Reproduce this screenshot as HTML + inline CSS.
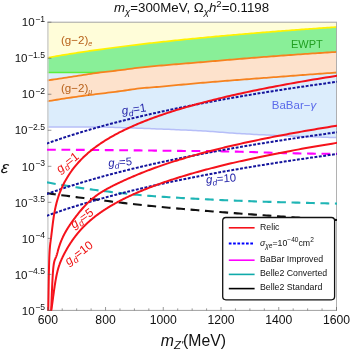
<!DOCTYPE html><html><head><meta charset="utf-8"><style>
html,body{margin:0;padding:0;background:#fff}
body{width:350px;height:349px;position:relative;overflow:hidden;font-family:"Liberation Sans",sans-serif}
svg{display:block;will-change:transform;opacity:0.999}
text{white-space:pre}
</style></head><body>
<svg width="350" height="349" viewBox="0 0 350 349" style="position:absolute;left:0;top:0">
<defs><clipPath id="c"><rect x="47.0" y="21.8" width="290.0" height="289.0"/></clipPath></defs>
<g clip-path="url(#c)">
<polygon fill="#DCEDFC" points="46.8,22.2 337.5,22.2 337.00,137.60 334.56,137.53 332.13,137.47 329.69,137.40 327.25,137.33 324.82,137.25 322.38,137.18 319.94,137.10 317.50,137.02 315.07,136.94 312.63,136.85 310.19,136.77 307.76,136.68 305.32,136.59 302.88,136.50 300.45,136.41 298.01,136.32 295.57,136.23 293.13,136.13 290.70,136.04 288.26,135.94 285.82,135.84 283.39,135.74 280.95,135.64 278.51,135.54 276.08,135.43 273.64,135.33 271.20,135.22 268.76,135.11 266.33,134.99 263.89,134.87 261.45,134.76 259.02,134.63 256.58,134.51 254.14,134.38 251.71,134.25 249.27,134.12 246.83,133.99 244.39,133.85 241.96,133.71 239.52,133.57 237.08,133.42 234.65,133.26 232.21,133.09 229.77,132.92 227.34,132.73 224.90,132.55 222.46,132.36 220.03,132.17 217.59,131.99 215.15,131.80 212.71,131.62 210.28,131.44 207.84,131.27 205.40,131.11 202.97,130.97 200.53,130.83 198.09,130.70 195.66,130.58 193.22,130.45 190.78,130.33 188.34,130.22 185.91,130.10 183.47,129.99 181.03,129.88 178.60,129.77 176.16,129.67 173.72,129.56 171.29,129.46 168.85,129.36 166.41,129.26 163.97,129.16 161.54,129.07 159.10,128.97 156.66,128.88 154.23,128.79 151.79,128.70 149.35,128.61 146.92,128.52 144.48,128.44 142.04,128.35 139.61,128.26 137.17,128.18 134.73,128.10 132.29,128.01 129.86,127.93 127.42,127.85 124.98,127.77 122.55,127.68 120.11,127.60 117.67,127.52 115.24,127.43 112.80,127.33 110.36,127.24 107.92,127.16 105.49,127.09 103.05,127.03 100.61,127.00 98.18,126.99 95.74,126.98 93.30,126.97 90.87,126.97 88.43,126.96 85.99,126.95 83.55,126.95 81.12,126.94 78.68,126.93 76.24,126.93 73.81,126.92 71.37,126.92 68.93,126.92 66.50,126.91 64.06,126.91 61.62,126.91 59.18,126.90 56.75,126.90 54.31,126.90 51.87,126.90 49.44,126.90 47.00,126.90"/>
<path d="M47.00,126.90 L49.44,126.90 L51.87,126.90 L54.31,126.90 L56.75,126.90 L59.18,126.90 L61.62,126.91 L64.06,126.91 L66.50,126.91 L68.93,126.92 L71.37,126.92 L73.81,126.92 L76.24,126.93 L78.68,126.93 L81.12,126.94 L83.55,126.95 L85.99,126.95 L88.43,126.96 L90.87,126.97 L93.30,126.97 L95.74,126.98 L98.18,126.99 L100.61,127.00 L103.05,127.03 L105.49,127.09 L107.92,127.16 L110.36,127.24 L112.80,127.33 L115.24,127.43 L117.67,127.52 L120.11,127.60 L122.55,127.68 L124.98,127.77 L127.42,127.85 L129.86,127.93 L132.29,128.01 L134.73,128.10 L137.17,128.18 L139.61,128.26 L142.04,128.35 L144.48,128.44 L146.92,128.52 L149.35,128.61 L151.79,128.70 L154.23,128.79 L156.66,128.88 L159.10,128.97 L161.54,129.07 L163.97,129.16 L166.41,129.26 L168.85,129.36 L171.29,129.46 L173.72,129.56 L176.16,129.67 L178.60,129.77 L181.03,129.88 L183.47,129.99 L185.91,130.10 L188.34,130.22 L190.78,130.33 L193.22,130.45 L195.66,130.58 L198.09,130.70 L200.53,130.83 L202.97,130.97 L205.40,131.11 L207.84,131.27 L210.28,131.44 L212.71,131.62 L215.15,131.80 L217.59,131.99 L220.03,132.17 L222.46,132.36 L224.90,132.55 L227.34,132.73 L229.77,132.92 L232.21,133.09 L234.65,133.26 L237.08,133.42 L239.52,133.57 L241.96,133.71 L244.39,133.85 L246.83,133.99 L249.27,134.12 L251.71,134.25 L254.14,134.38 L256.58,134.51 L259.02,134.63 L261.45,134.76 L263.89,134.87 L266.33,134.99 L268.76,135.11 L271.20,135.22 L273.64,135.33 L276.08,135.43 L278.51,135.54 L280.95,135.64 L283.39,135.74 L285.82,135.84 L288.26,135.94 L290.70,136.04 L293.13,136.13 L295.57,136.23 L298.01,136.32 L300.45,136.41 L302.88,136.50 L305.32,136.59 L307.76,136.68 L310.19,136.77 L312.63,136.85 L315.07,136.94 L317.50,137.02 L319.94,137.10 L322.38,137.18 L324.82,137.25 L327.25,137.33 L329.69,137.40 L332.13,137.47 L334.56,137.53 L337.00,137.60" fill="none" stroke="#B6BEF8" stroke-width="1.5"/>
<polygon fill="#89EF98" points="46.60,57.92 48.55,57.57 50.50,57.22 52.45,56.87 54.40,56.53 56.34,56.19 58.29,55.86 60.24,55.53 62.19,55.21 64.14,54.88 66.09,54.56 68.04,54.25 69.99,53.93 71.94,53.62 73.89,53.31 75.83,53.01 77.78,52.71 79.73,52.41 81.68,52.12 83.63,51.82 85.58,51.53 87.53,51.24 89.48,50.96 91.43,50.68 93.38,50.40 95.32,50.12 97.27,49.85 99.22,49.57 101.17,49.30 103.12,49.04 105.07,48.77 107.02,48.51 108.97,48.25 110.92,47.99 112.87,47.73 114.81,47.48 116.76,47.22 118.71,46.97 120.66,46.72 122.61,46.48 124.56,46.23 126.51,45.99 128.46,45.75 130.41,45.51 132.36,45.27 134.30,45.04 136.25,44.80 138.20,44.57 140.15,44.34 142.10,44.11 144.05,43.88 146.00,43.66 147.95,43.44 149.90,43.21 151.85,42.99 153.79,42.77 155.74,42.56 157.69,42.34 159.64,42.13 161.59,41.91 163.54,41.70 165.49,41.49 167.44,41.28 169.39,41.07 171.34,40.87 173.28,40.66 175.23,40.46 177.18,40.26 179.13,40.06 181.08,39.86 183.03,39.66 184.98,39.46 186.93,39.27 188.88,39.07 190.83,38.88 192.77,38.69 194.72,38.50 196.67,38.31 198.62,38.12 200.57,37.93 202.52,37.74 204.47,37.56 206.42,37.37 208.37,37.19 210.32,37.01 212.26,36.83 214.21,36.65 216.16,36.47 218.11,36.29 220.06,36.11 222.01,35.94 223.96,35.76 225.91,35.59 227.86,35.42 229.81,35.24 231.75,35.07 233.70,34.90 235.65,34.73 237.60,34.56 239.55,34.40 241.50,34.23 243.45,34.07 245.40,33.90 247.35,33.74 249.30,33.57 251.24,33.41 253.19,33.25 255.14,33.09 257.09,32.93 259.04,32.77 260.99,32.61 262.94,32.45 264.89,32.30 266.84,32.14 268.79,31.99 270.73,31.83 272.68,31.68 274.63,31.53 276.58,31.37 278.53,31.22 280.48,31.07 282.43,30.92 284.38,30.77 286.33,30.63 288.28,30.48 290.22,30.33 292.17,30.18 294.12,30.04 296.07,29.89 298.02,29.75 299.97,29.61 301.92,29.46 303.87,29.32 305.82,29.18 307.77,29.04 309.71,28.90 311.66,28.76 313.61,28.62 315.56,28.48 317.51,28.34 319.46,28.20 321.41,28.07 323.36,27.93 325.31,27.80 327.26,27.66 329.20,27.53 331.15,27.39 333.10,27.26 335.05,27.13 337.00,27.00 337.5,72.5 46.8,72.5"/>
<path d="M46.8,72.5 L337.5,72.5" stroke="#5AEF3C" stroke-width="1.3"/>
<polygon fill="#FFFDD9" points="46.8,22.2 337.5,22.2 337.00,27.00 335.05,27.13 333.10,27.26 331.15,27.39 329.20,27.53 327.26,27.66 325.31,27.80 323.36,27.93 321.41,28.07 319.46,28.20 317.51,28.34 315.56,28.48 313.61,28.62 311.66,28.76 309.71,28.90 307.77,29.04 305.82,29.18 303.87,29.32 301.92,29.46 299.97,29.61 298.02,29.75 296.07,29.89 294.12,30.04 292.17,30.18 290.22,30.33 288.28,30.48 286.33,30.63 284.38,30.77 282.43,30.92 280.48,31.07 278.53,31.22 276.58,31.37 274.63,31.53 272.68,31.68 270.73,31.83 268.79,31.99 266.84,32.14 264.89,32.30 262.94,32.45 260.99,32.61 259.04,32.77 257.09,32.93 255.14,33.09 253.19,33.25 251.24,33.41 249.30,33.57 247.35,33.74 245.40,33.90 243.45,34.07 241.50,34.23 239.55,34.40 237.60,34.56 235.65,34.73 233.70,34.90 231.75,35.07 229.81,35.24 227.86,35.42 225.91,35.59 223.96,35.76 222.01,35.94 220.06,36.11 218.11,36.29 216.16,36.47 214.21,36.65 212.26,36.83 210.32,37.01 208.37,37.19 206.42,37.37 204.47,37.56 202.52,37.74 200.57,37.93 198.62,38.12 196.67,38.31 194.72,38.50 192.77,38.69 190.83,38.88 188.88,39.07 186.93,39.27 184.98,39.46 183.03,39.66 181.08,39.86 179.13,40.06 177.18,40.26 175.23,40.46 173.28,40.66 171.34,40.87 169.39,41.07 167.44,41.28 165.49,41.49 163.54,41.70 161.59,41.91 159.64,42.13 157.69,42.34 155.74,42.56 153.79,42.77 151.85,42.99 149.90,43.21 147.95,43.44 146.00,43.66 144.05,43.88 142.10,44.11 140.15,44.34 138.20,44.57 136.25,44.80 134.30,45.04 132.36,45.27 130.41,45.51 128.46,45.75 126.51,45.99 124.56,46.23 122.61,46.48 120.66,46.72 118.71,46.97 116.76,47.22 114.81,47.48 112.87,47.73 110.92,47.99 108.97,48.25 107.02,48.51 105.07,48.77 103.12,49.04 101.17,49.30 99.22,49.57 97.27,49.85 95.32,50.12 93.38,50.40 91.43,50.68 89.48,50.96 87.53,51.24 85.58,51.53 83.63,51.82 81.68,52.12 79.73,52.41 77.78,52.71 75.83,53.01 73.89,53.31 71.94,53.62 69.99,53.93 68.04,54.25 66.09,54.56 64.14,54.88 62.19,55.21 60.24,55.53 58.29,55.86 56.34,56.19 54.40,56.53 52.45,56.87 50.50,57.22 48.55,57.57 46.60,57.92"/>
<path d="M46.60,57.92 L48.55,57.57 L50.50,57.22 L52.45,56.87 L54.40,56.53 L56.34,56.19 L58.29,55.86 L60.24,55.53 L62.19,55.21 L64.14,54.88 L66.09,54.56 L68.04,54.25 L69.99,53.93 L71.94,53.62 L73.89,53.31 L75.83,53.01 L77.78,52.71 L79.73,52.41 L81.68,52.12 L83.63,51.82 L85.58,51.53 L87.53,51.24 L89.48,50.96 L91.43,50.68 L93.38,50.40 L95.32,50.12 L97.27,49.85 L99.22,49.57 L101.17,49.30 L103.12,49.04 L105.07,48.77 L107.02,48.51 L108.97,48.25 L110.92,47.99 L112.87,47.73 L114.81,47.48 L116.76,47.22 L118.71,46.97 L120.66,46.72 L122.61,46.48 L124.56,46.23 L126.51,45.99 L128.46,45.75 L130.41,45.51 L132.36,45.27 L134.30,45.04 L136.25,44.80 L138.20,44.57 L140.15,44.34 L142.10,44.11 L144.05,43.88 L146.00,43.66 L147.95,43.44 L149.90,43.21 L151.85,42.99 L153.79,42.77 L155.74,42.56 L157.69,42.34 L159.64,42.13 L161.59,41.91 L163.54,41.70 L165.49,41.49 L167.44,41.28 L169.39,41.07 L171.34,40.87 L173.28,40.66 L175.23,40.46 L177.18,40.26 L179.13,40.06 L181.08,39.86 L183.03,39.66 L184.98,39.46 L186.93,39.27 L188.88,39.07 L190.83,38.88 L192.77,38.69 L194.72,38.50 L196.67,38.31 L198.62,38.12 L200.57,37.93 L202.52,37.74 L204.47,37.56 L206.42,37.37 L208.37,37.19 L210.32,37.01 L212.26,36.83 L214.21,36.65 L216.16,36.47 L218.11,36.29 L220.06,36.11 L222.01,35.94 L223.96,35.76 L225.91,35.59 L227.86,35.42 L229.81,35.24 L231.75,35.07 L233.70,34.90 L235.65,34.73 L237.60,34.56 L239.55,34.40 L241.50,34.23 L243.45,34.07 L245.40,33.90 L247.35,33.74 L249.30,33.57 L251.24,33.41 L253.19,33.25 L255.14,33.09 L257.09,32.93 L259.04,32.77 L260.99,32.61 L262.94,32.45 L264.89,32.30 L266.84,32.14 L268.79,31.99 L270.73,31.83 L272.68,31.68 L274.63,31.53 L276.58,31.37 L278.53,31.22 L280.48,31.07 L282.43,30.92 L284.38,30.77 L286.33,30.63 L288.28,30.48 L290.22,30.33 L292.17,30.18 L294.12,30.04 L296.07,29.89 L298.02,29.75 L299.97,29.61 L301.92,29.46 L303.87,29.32 L305.82,29.18 L307.77,29.04 L309.71,28.90 L311.66,28.76 L313.61,28.62 L315.56,28.48 L317.51,28.34 L319.46,28.20 L321.41,28.07 L323.36,27.93 L325.31,27.80 L327.26,27.66 L329.20,27.53 L331.15,27.39 L333.10,27.26 L335.05,27.13 L337.00,27.00" fill="none" stroke="#FFF200" stroke-width="1.7"/>
<polygon fill="#FDE2CC" points="47.00,80.50 49.44,80.13 51.87,79.76 54.31,79.39 56.75,79.02 59.18,78.65 61.62,78.28 64.06,77.91 66.50,77.54 68.93,77.17 71.37,76.80 73.81,76.44 76.24,76.07 78.68,75.70 81.12,75.33 83.55,74.97 85.99,74.60 88.43,74.22 90.87,73.84 93.30,73.46 95.74,73.09 98.18,72.75 100.61,72.42 103.05,72.12 105.49,71.83 107.92,71.56 110.36,71.29 112.80,71.02 115.24,70.75 117.67,70.48 120.11,70.19 122.55,69.88 124.98,69.55 127.42,69.22 129.86,68.89 132.29,68.55 134.73,68.23 137.17,67.93 139.61,67.64 142.04,67.38 144.48,67.13 146.92,66.88 149.35,66.64 151.79,66.40 154.23,66.17 156.66,65.94 159.10,65.72 161.54,65.50 163.97,65.29 166.41,65.08 168.85,64.87 171.29,64.67 173.72,64.47 176.16,64.27 178.60,64.07 181.03,63.87 183.47,63.67 185.91,63.47 188.34,63.27 190.78,63.07 193.22,62.87 195.66,62.67 198.09,62.46 200.53,62.25 202.97,62.05 205.40,61.84 207.84,61.63 210.28,61.42 212.71,61.21 215.15,61.00 217.59,60.79 220.03,60.58 222.46,60.37 224.90,60.16 227.34,59.96 229.77,59.75 232.21,59.54 234.65,59.34 237.08,59.13 239.52,58.93 241.96,58.73 244.39,58.52 246.83,58.32 249.27,58.13 251.71,57.93 254.14,57.73 256.58,57.54 259.02,57.35 261.45,57.15 263.89,56.97 266.33,56.78 268.76,56.59 271.20,56.41 273.64,56.23 276.08,56.05 278.51,55.87 280.95,55.69 283.39,55.51 285.82,55.33 288.26,55.16 290.70,54.99 293.13,54.81 295.57,54.64 298.01,54.47 300.45,54.30 302.88,54.13 305.32,53.96 307.76,53.80 310.19,53.63 312.63,53.47 315.07,53.31 317.50,53.14 319.94,52.98 322.38,52.83 324.82,52.67 327.25,52.51 329.69,52.36 332.13,52.20 334.56,52.05 337.00,51.90 337.00,72.50 334.56,72.68 332.13,72.86 329.69,73.03 327.25,73.21 324.82,73.39 322.38,73.57 319.94,73.75 317.50,73.93 315.07,74.11 312.63,74.29 310.19,74.47 307.76,74.65 305.32,74.83 302.88,75.01 300.45,75.20 298.01,75.38 295.57,75.56 293.13,75.74 290.70,75.93 288.26,76.11 285.82,76.30 283.39,76.48 280.95,76.67 278.51,76.85 276.08,77.04 273.64,77.22 271.20,77.41 268.76,77.59 266.33,77.78 263.89,77.97 261.45,78.15 259.02,78.34 256.58,78.52 254.14,78.71 251.71,78.89 249.27,79.08 246.83,79.26 244.39,79.45 241.96,79.64 239.52,79.82 237.08,80.01 234.65,80.20 232.21,80.39 229.77,80.58 227.34,80.77 224.90,80.96 222.46,81.15 220.03,81.35 217.59,81.54 215.15,81.74 212.71,81.94 210.28,82.14 207.84,82.34 205.40,82.54 202.97,82.75 200.53,82.95 198.09,83.16 195.66,83.38 193.22,83.60 190.78,83.82 188.34,84.05 185.91,84.28 183.47,84.51 181.03,84.74 178.60,84.97 176.16,85.20 173.72,85.43 171.29,85.67 168.85,85.89 166.41,86.12 163.97,86.34 161.54,86.56 159.10,86.78 156.66,86.98 154.23,87.18 151.79,87.37 149.35,87.56 146.92,87.76 144.48,87.97 142.04,88.19 139.61,88.44 137.17,88.73 134.73,89.05 132.29,89.39 129.86,89.76 127.42,90.13 124.98,90.49 122.55,90.85 120.11,91.19 117.67,91.50 115.24,91.82 112.80,92.12 110.36,92.42 107.92,92.72 105.49,93.02 103.05,93.32 100.61,93.62 98.18,93.93 95.74,94.22 93.30,94.52 90.87,94.82 88.43,95.12 85.99,95.43 83.55,95.76 81.12,96.10 78.68,96.44 76.24,96.78 73.81,97.13 71.37,97.49 68.93,97.85 66.50,98.22 64.06,98.60 61.62,98.98 59.18,99.36 56.75,99.76 54.31,100.16 51.87,100.56 49.44,100.98 47.00,101.40"/>
<path d="M47.00,80.50 L49.44,80.13 L51.87,79.76 L54.31,79.39 L56.75,79.02 L59.18,78.65 L61.62,78.28 L64.06,77.91 L66.50,77.54 L68.93,77.17 L71.37,76.80 L73.81,76.44 L76.24,76.07 L78.68,75.70 L81.12,75.33 L83.55,74.97 L85.99,74.60 L88.43,74.22 L90.87,73.84 L93.30,73.46 L95.74,73.09 L98.18,72.75 L100.61,72.42 L103.05,72.12 L105.49,71.83 L107.92,71.56 L110.36,71.29 L112.80,71.02 L115.24,70.75 L117.67,70.48 L120.11,70.19 L122.55,69.88 L124.98,69.55 L127.42,69.22 L129.86,68.89 L132.29,68.55 L134.73,68.23 L137.17,67.93 L139.61,67.64 L142.04,67.38 L144.48,67.13 L146.92,66.88 L149.35,66.64 L151.79,66.40 L154.23,66.17 L156.66,65.94 L159.10,65.72 L161.54,65.50 L163.97,65.29 L166.41,65.08 L168.85,64.87 L171.29,64.67 L173.72,64.47 L176.16,64.27 L178.60,64.07 L181.03,63.87 L183.47,63.67 L185.91,63.47 L188.34,63.27 L190.78,63.07 L193.22,62.87 L195.66,62.67 L198.09,62.46 L200.53,62.25 L202.97,62.05 L205.40,61.84 L207.84,61.63 L210.28,61.42 L212.71,61.21 L215.15,61.00 L217.59,60.79 L220.03,60.58 L222.46,60.37 L224.90,60.16 L227.34,59.96 L229.77,59.75 L232.21,59.54 L234.65,59.34 L237.08,59.13 L239.52,58.93 L241.96,58.73 L244.39,58.52 L246.83,58.32 L249.27,58.13 L251.71,57.93 L254.14,57.73 L256.58,57.54 L259.02,57.35 L261.45,57.15 L263.89,56.97 L266.33,56.78 L268.76,56.59 L271.20,56.41 L273.64,56.23 L276.08,56.05 L278.51,55.87 L280.95,55.69 L283.39,55.51 L285.82,55.33 L288.26,55.16 L290.70,54.99 L293.13,54.81 L295.57,54.64 L298.01,54.47 L300.45,54.30 L302.88,54.13 L305.32,53.96 L307.76,53.80 L310.19,53.63 L312.63,53.47 L315.07,53.31 L317.50,53.14 L319.94,52.98 L322.38,52.83 L324.82,52.67 L327.25,52.51 L329.69,52.36 L332.13,52.20 L334.56,52.05 L337.00,51.90" fill="none" stroke="#F6821F" stroke-width="1.8"/>
<path d="M47.00,101.40 L49.44,100.98 L51.87,100.56 L54.31,100.16 L56.75,99.76 L59.18,99.36 L61.62,98.98 L64.06,98.60 L66.50,98.22 L68.93,97.85 L71.37,97.49 L73.81,97.13 L76.24,96.78 L78.68,96.44 L81.12,96.10 L83.55,95.76 L85.99,95.43 L88.43,95.12 L90.87,94.82 L93.30,94.52 L95.74,94.22 L98.18,93.93 L100.61,93.62 L103.05,93.32 L105.49,93.02 L107.92,92.72 L110.36,92.42 L112.80,92.12 L115.24,91.82 L117.67,91.50 L120.11,91.19 L122.55,90.85 L124.98,90.49 L127.42,90.13 L129.86,89.76 L132.29,89.39 L134.73,89.05 L137.17,88.73 L139.61,88.44 L142.04,88.19 L144.48,87.97 L146.92,87.76 L149.35,87.56 L151.79,87.37 L154.23,87.18 L156.66,86.98 L159.10,86.78 L161.54,86.56 L163.97,86.34 L166.41,86.12 L168.85,85.89 L171.29,85.67 L173.72,85.43 L176.16,85.20 L178.60,84.97 L181.03,84.74 L183.47,84.51 L185.91,84.28 L188.34,84.05 L190.78,83.82 L193.22,83.60 L195.66,83.38 L198.09,83.16 L200.53,82.95 L202.97,82.75 L205.40,82.54 L207.84,82.34 L210.28,82.14 L212.71,81.94 L215.15,81.74 L217.59,81.54 L220.03,81.35 L222.46,81.15 L224.90,80.96 L227.34,80.77 L229.77,80.58 L232.21,80.39 L234.65,80.20 L237.08,80.01 L239.52,79.82 L241.96,79.64 L244.39,79.45 L246.83,79.26 L249.27,79.08 L251.71,78.89 L254.14,78.71 L256.58,78.52 L259.02,78.34 L261.45,78.15 L263.89,77.97 L266.33,77.78 L268.76,77.59 L271.20,77.41 L273.64,77.22 L276.08,77.04 L278.51,76.85 L280.95,76.67 L283.39,76.48 L285.82,76.30 L288.26,76.11 L290.70,75.93 L293.13,75.74 L295.57,75.56 L298.01,75.38 L300.45,75.20 L302.88,75.01 L305.32,74.83 L307.76,74.65 L310.19,74.47 L312.63,74.29 L315.07,74.11 L317.50,73.93 L319.94,73.75 L322.38,73.57 L324.82,73.39 L327.25,73.21 L329.69,73.03 L332.13,72.86 L334.56,72.68 L337.00,72.50" fill="none" stroke="#F6821F" stroke-width="1.8"/>
</g>
<path d="M47.9,22.2 V310.4" stroke="#cfcfcf" stroke-width="1.5" fill="none"/>
<path d="M47.199999999999996,22.2 H337.0" stroke="#9a9a9a" stroke-width="0.9" fill="none"/>
<path d="M336.5,22.2 V310.4" stroke="#a8a8a8" stroke-width="0.9" fill="none"/>
<path d="M47.199999999999996,310.4 H337.0" stroke="#777" stroke-width="0.7" fill="none"/>
<g clip-path="url(#c)">
<path d="M47.00,149.70 L49.44,149.71 L51.87,149.72 L54.31,149.73 L56.75,149.75 L59.18,149.76 L61.62,149.77 L64.06,149.78 L66.50,149.80 L68.93,149.81 L71.37,149.83 L73.81,149.84 L76.24,149.86 L78.68,149.88 L81.12,149.89 L83.55,149.91 L85.99,149.93 L88.43,149.94 L90.87,149.96 L93.30,149.98 L95.74,150.00 L98.18,150.02 L100.61,150.04 L103.05,150.06 L105.49,150.08 L107.92,150.10 L110.36,150.12 L112.80,150.14 L115.24,150.16 L117.67,150.18 L120.11,150.20 L122.55,150.22 L124.98,150.25 L127.42,150.27 L129.86,150.30 L132.29,150.32 L134.73,150.35 L137.17,150.38 L139.61,150.41 L142.04,150.44 L144.48,150.47 L146.92,150.50 L149.35,150.53 L151.79,150.56 L154.23,150.59 L156.66,150.62 L159.10,150.65 L161.54,150.68 L163.97,150.71 L166.41,150.74 L168.85,150.77 L171.29,150.80 L173.72,150.83 L176.16,150.86 L178.60,150.88 L181.03,150.91 L183.47,150.94 L185.91,150.96 L188.34,150.98 L190.78,151.00 L193.22,151.02 L195.66,151.04 L198.09,151.07 L200.53,151.09 L202.97,151.11 L205.40,151.13 L207.84,151.16 L210.28,151.18 L212.71,151.21 L215.15,151.24 L217.59,151.27 L220.03,151.30 L222.46,151.34 L224.90,151.38 L227.34,151.43 L229.77,151.48 L232.21,151.53 L234.65,151.59 L237.08,151.65 L239.52,151.72 L241.96,151.78 L244.39,151.85 L246.83,151.91 L249.27,151.98 L251.71,152.05 L254.14,152.13 L256.58,152.21 L259.02,152.30 L261.45,152.39 L263.89,152.48 L266.33,152.57 L268.76,152.66 L271.20,152.74 L273.64,152.83 L276.08,152.90 L278.51,152.96 L280.95,153.02 L283.39,153.08 L285.82,153.13 L288.26,153.18 L290.70,153.23 L293.13,153.28 L295.57,153.33 L298.01,153.38 L300.45,153.43 L302.88,153.48 L305.32,153.52 L307.76,153.57 L310.19,153.61 L312.63,153.65 L315.07,153.68 L317.50,153.72 L319.94,153.75 L322.38,153.78 L324.82,153.81 L327.25,153.83 L329.69,153.85 L332.13,153.87 L334.56,153.89 L337.00,153.90" fill="none" stroke="#FF00FF" stroke-width="2.1" stroke-dasharray="8.8 5.65"/>
<path d="M47.00,182.40 L49.44,182.84 L51.87,183.27 L54.31,183.69 L56.75,184.11 L59.18,184.53 L61.62,184.94 L64.06,185.34 L66.50,185.74 L68.93,186.14 L71.37,186.53 L73.81,186.91 L76.24,187.28 L78.68,187.65 L81.12,188.02 L83.55,188.37 L85.99,188.72 L88.43,189.07 L90.87,189.40 L93.30,189.73 L95.74,190.05 L98.18,190.37 L100.61,190.68 L103.05,190.98 L105.49,191.28 L107.92,191.58 L110.36,191.88 L112.80,192.17 L115.24,192.46 L117.67,192.75 L120.11,193.03 L122.55,193.31 L124.98,193.57 L127.42,193.84 L129.86,194.09 L132.29,194.34 L134.73,194.59 L137.17,194.82 L139.61,195.04 L142.04,195.26 L144.48,195.47 L146.92,195.67 L149.35,195.85 L151.79,196.03 L154.23,196.21 L156.66,196.38 L159.10,196.55 L161.54,196.71 L163.97,196.88 L166.41,197.04 L168.85,197.20 L171.29,197.35 L173.72,197.51 L176.16,197.66 L178.60,197.81 L181.03,197.95 L183.47,198.09 L185.91,198.23 L188.34,198.37 L190.78,198.51 L193.22,198.64 L195.66,198.77 L198.09,198.90 L200.53,199.03 L202.97,199.15 L205.40,199.28 L207.84,199.40 L210.28,199.52 L212.71,199.63 L215.15,199.75 L217.59,199.86 L220.03,199.97 L222.46,200.08 L224.90,200.19 L227.34,200.29 L229.77,200.40 L232.21,200.50 L234.65,200.60 L237.08,200.70 L239.52,200.80 L241.96,200.89 L244.39,200.99 L246.83,201.08 L249.27,201.17 L251.71,201.26 L254.14,201.35 L256.58,201.44 L259.02,201.52 L261.45,201.60 L263.89,201.68 L266.33,201.75 L268.76,201.83 L271.20,201.90 L273.64,201.98 L276.08,202.05 L278.51,202.12 L280.95,202.18 L283.39,202.25 L285.82,202.32 L288.26,202.39 L290.70,202.45 L293.13,202.52 L295.57,202.58 L298.01,202.65 L300.45,202.71 L302.88,202.78 L305.32,202.84 L307.76,202.90 L310.19,202.97 L312.63,203.03 L315.07,203.09 L317.50,203.15 L319.94,203.21 L322.38,203.27 L324.82,203.32 L327.25,203.38 L329.69,203.44 L332.13,203.49 L334.56,203.55 L337.00,203.60" fill="none" stroke="#1FB5B5" stroke-width="2.1" stroke-dasharray="8.8 5.65"/>
<path d="M47.00,193.20 L49.44,193.53 L51.87,193.87 L54.31,194.20 L56.75,194.53 L59.18,194.86 L61.62,195.18 L64.06,195.51 L66.50,195.83 L68.93,196.15 L71.37,196.47 L73.81,196.79 L76.24,197.10 L78.68,197.42 L81.12,197.73 L83.55,198.04 L85.99,198.35 L88.43,198.66 L90.87,198.97 L93.30,199.27 L95.74,199.57 L98.18,199.88 L100.61,200.18 L103.05,200.47 L105.49,200.77 L107.92,201.07 L110.36,201.37 L112.80,201.67 L115.24,201.97 L117.67,202.27 L120.11,202.56 L122.55,202.85 L124.98,203.14 L127.42,203.43 L129.86,203.72 L132.29,204.00 L134.73,204.27 L137.17,204.55 L139.61,204.82 L142.04,205.08 L144.48,205.34 L146.92,205.59 L149.35,205.84 L151.79,206.08 L154.23,206.32 L156.66,206.55 L159.10,206.79 L161.54,207.02 L163.97,207.25 L166.41,207.48 L168.85,207.70 L171.29,207.93 L173.72,208.15 L176.16,208.37 L178.60,208.59 L181.03,208.80 L183.47,209.02 L185.91,209.23 L188.34,209.44 L190.78,209.65 L193.22,209.85 L195.66,210.06 L198.09,210.26 L200.53,210.47 L202.97,210.67 L205.40,210.87 L207.84,211.06 L210.28,211.26 L212.71,211.46 L215.15,211.65 L217.59,211.84 L220.03,212.03 L222.46,212.22 L224.90,212.41 L227.34,212.60 L229.77,212.79 L232.21,212.97 L234.65,213.16 L237.08,213.34 L239.52,213.52 L241.96,213.71 L244.39,213.89 L246.83,214.07 L249.27,214.25 L251.71,214.42 L254.14,214.60 L256.58,214.78 L259.02,214.96 L261.45,215.13 L263.89,215.30 L266.33,215.48 L268.76,215.65 L271.20,215.82 L273.64,215.99 L276.08,216.16 L278.51,216.32 L280.95,216.49 L283.39,216.66 L285.82,216.82 L288.26,216.98 L290.70,217.14 L293.13,217.31 L295.57,217.46 L298.01,217.62 L300.45,217.78 L302.88,217.94 L305.32,218.09 L307.76,218.25 L310.19,218.40 L312.63,218.55 L315.07,218.70 L317.50,218.85 L319.94,219.00 L322.38,219.15 L324.82,219.29 L327.25,219.44 L329.69,219.58 L332.13,219.72 L334.56,219.86 L337.00,220.00" fill="none" stroke="#111111" stroke-width="2.1" stroke-dasharray="8.8 5.65"/>
<path d="M46.60,143.63 L48.55,142.93 L50.50,142.23 L52.45,141.54 L54.40,140.86 L56.34,140.19 L58.29,139.52 L60.24,138.86 L62.19,138.21 L64.14,137.56 L66.09,136.92 L68.04,136.29 L69.99,135.66 L71.94,135.04 L73.89,134.43 L75.83,133.82 L77.78,133.22 L79.73,132.62 L81.68,132.03 L83.63,131.44 L85.58,130.86 L87.53,130.29 L89.48,129.72 L91.43,129.16 L93.38,128.60 L95.32,128.04 L97.27,127.49 L99.22,126.95 L101.17,126.41 L103.12,125.87 L105.07,125.34 L107.02,124.81 L108.97,124.29 L110.92,123.77 L112.87,123.26 L114.81,122.75 L116.76,122.25 L118.71,121.74 L120.66,121.25 L122.61,120.75 L124.56,120.26 L126.51,119.78 L128.46,119.30 L130.41,118.82 L132.36,118.34 L134.30,117.87 L136.25,117.40 L138.20,116.94 L140.15,116.48 L142.10,116.02 L144.05,115.57 L146.00,115.12 L147.95,114.67 L149.90,114.23 L151.85,113.79 L153.79,113.35 L155.74,112.91 L157.69,112.48 L159.64,112.05 L161.59,111.62 L163.54,111.20 L165.49,110.78 L167.44,110.36 L169.39,109.95 L171.34,109.54 L173.28,109.13 L175.23,108.72 L177.18,108.32 L179.13,107.91 L181.08,107.52 L183.03,107.12 L184.98,106.73 L186.93,106.33 L188.88,105.94 L190.83,105.56 L192.77,105.17 L194.72,104.79 L196.67,104.41 L198.62,104.03 L200.57,103.66 L202.52,103.29 L204.47,102.92 L206.42,102.55 L208.37,102.18 L210.32,101.82 L212.26,101.46 L214.21,101.10 L216.16,100.74 L218.11,100.38 L220.06,100.03 L222.01,99.68 L223.96,99.33 L225.91,98.98 L227.86,98.63 L229.81,98.29 L231.75,97.95 L233.70,97.61 L235.65,97.27 L237.60,96.93 L239.55,96.59 L241.50,96.26 L243.45,95.93 L245.40,95.60 L247.35,95.27 L249.30,94.95 L251.24,94.62 L253.19,94.30 L255.14,93.98 L257.09,93.66 L259.04,93.34 L260.99,93.02 L262.94,92.71 L264.89,92.40 L266.84,92.08 L268.79,91.77 L270.73,91.47 L272.68,91.16 L274.63,90.85 L276.58,90.55 L278.53,90.25 L280.48,89.95 L282.43,89.65 L284.38,89.35 L286.33,89.05 L288.28,88.76 L290.22,88.46 L292.17,88.17 L294.12,87.88 L296.07,87.59 L298.02,87.30 L299.97,87.01 L301.92,86.73 L303.87,86.44 L305.82,86.16 L307.77,85.88 L309.71,85.60 L311.66,85.32 L313.61,85.04 L315.56,84.76 L317.51,84.48 L319.46,84.21 L321.41,83.94 L323.36,83.66 L325.31,83.39 L327.26,83.12 L329.20,82.85 L331.15,82.59 L333.10,82.32 L335.05,82.06 L337.00,81.79" fill="none" stroke="#14149C" stroke-width="2.0" stroke-dasharray="2.9 1.53"/>
<path d="M46.60,194.13 L48.55,193.43 L50.50,192.73 L52.45,192.04 L54.40,191.36 L56.34,190.69 L58.29,190.02 L60.24,189.36 L62.19,188.71 L64.14,188.06 L66.09,187.42 L68.04,186.79 L69.99,186.16 L71.94,185.54 L73.89,184.93 L75.83,184.32 L77.78,183.72 L79.73,183.12 L81.68,182.53 L83.63,181.94 L85.58,181.36 L87.53,180.79 L89.48,180.22 L91.43,179.66 L93.38,179.10 L95.32,178.54 L97.27,177.99 L99.22,177.45 L101.17,176.91 L103.12,176.37 L105.07,175.84 L107.02,175.31 L108.97,174.79 L110.92,174.27 L112.87,173.76 L114.81,173.25 L116.76,172.75 L118.71,172.24 L120.66,171.75 L122.61,171.25 L124.56,170.76 L126.51,170.28 L128.46,169.80 L130.41,169.32 L132.36,168.84 L134.30,168.37 L136.25,167.90 L138.20,167.44 L140.15,166.98 L142.10,166.52 L144.05,166.07 L146.00,165.62 L147.95,165.17 L149.90,164.73 L151.85,164.29 L153.79,163.85 L155.74,163.41 L157.69,162.98 L159.64,162.55 L161.59,162.12 L163.54,161.70 L165.49,161.28 L167.44,160.86 L169.39,160.45 L171.34,160.04 L173.28,159.63 L175.23,159.22 L177.18,158.82 L179.13,158.41 L181.08,158.02 L183.03,157.62 L184.98,157.23 L186.93,156.83 L188.88,156.44 L190.83,156.06 L192.77,155.67 L194.72,155.29 L196.67,154.91 L198.62,154.53 L200.57,154.16 L202.52,153.79 L204.47,153.42 L206.42,153.05 L208.37,152.68 L210.32,152.32 L212.26,151.96 L214.21,151.60 L216.16,151.24 L218.11,150.88 L220.06,150.53 L222.01,150.18 L223.96,149.83 L225.91,149.48 L227.86,149.13 L229.81,148.79 L231.75,148.45 L233.70,148.11 L235.65,147.77 L237.60,147.43 L239.55,147.09 L241.50,146.76 L243.45,146.43 L245.40,146.10 L247.35,145.77 L249.30,145.45 L251.24,145.12 L253.19,144.80 L255.14,144.48 L257.09,144.16 L259.04,143.84 L260.99,143.52 L262.94,143.21 L264.89,142.90 L266.84,142.58 L268.79,142.27 L270.73,141.97 L272.68,141.66 L274.63,141.35 L276.58,141.05 L278.53,140.75 L280.48,140.45 L282.43,140.15 L284.38,139.85 L286.33,139.55 L288.28,139.26 L290.22,138.96 L292.17,138.67 L294.12,138.38 L296.07,138.09 L298.02,137.80 L299.97,137.51 L301.92,137.23 L303.87,136.94 L305.82,136.66 L307.77,136.38 L309.71,136.10 L311.66,135.82 L313.61,135.54 L315.56,135.26 L317.51,134.98 L319.46,134.71 L321.41,134.44 L323.36,134.16 L325.31,133.89 L327.26,133.62 L329.20,133.35 L331.15,133.09 L333.10,132.82 L335.05,132.56 L337.00,132.29" fill="none" stroke="#14149C" stroke-width="2.0" stroke-dasharray="2.9 1.53"/>
<path d="M46.60,215.88 L48.55,215.18 L50.50,214.48 L52.45,213.79 L54.40,213.11 L56.34,212.44 L58.29,211.77 L60.24,211.11 L62.19,210.46 L64.14,209.81 L66.09,209.17 L68.04,208.54 L69.99,207.91 L71.94,207.29 L73.89,206.68 L75.83,206.07 L77.78,205.47 L79.73,204.87 L81.68,204.28 L83.63,203.69 L85.58,203.11 L87.53,202.54 L89.48,201.97 L91.43,201.41 L93.38,200.85 L95.32,200.29 L97.27,199.74 L99.22,199.20 L101.17,198.66 L103.12,198.12 L105.07,197.59 L107.02,197.06 L108.97,196.54 L110.92,196.02 L112.87,195.51 L114.81,195.00 L116.76,194.50 L118.71,193.99 L120.66,193.50 L122.61,193.00 L124.56,192.51 L126.51,192.03 L128.46,191.55 L130.41,191.07 L132.36,190.59 L134.30,190.12 L136.25,189.65 L138.20,189.19 L140.15,188.73 L142.10,188.27 L144.05,187.82 L146.00,187.37 L147.95,186.92 L149.90,186.48 L151.85,186.04 L153.79,185.60 L155.74,185.16 L157.69,184.73 L159.64,184.30 L161.59,183.87 L163.54,183.45 L165.49,183.03 L167.44,182.61 L169.39,182.20 L171.34,181.79 L173.28,181.38 L175.23,180.97 L177.18,180.57 L179.13,180.16 L181.08,179.77 L183.03,179.37 L184.98,178.98 L186.93,178.58 L188.88,178.19 L190.83,177.81 L192.77,177.42 L194.72,177.04 L196.67,176.66 L198.62,176.28 L200.57,175.91 L202.52,175.54 L204.47,175.17 L206.42,174.80 L208.37,174.43 L210.32,174.07 L212.26,173.71 L214.21,173.35 L216.16,172.99 L218.11,172.63 L220.06,172.28 L222.01,171.93 L223.96,171.58 L225.91,171.23 L227.86,170.88 L229.81,170.54 L231.75,170.20 L233.70,169.86 L235.65,169.52 L237.60,169.18 L239.55,168.84 L241.50,168.51 L243.45,168.18 L245.40,167.85 L247.35,167.52 L249.30,167.20 L251.24,166.87 L253.19,166.55 L255.14,166.23 L257.09,165.91 L259.04,165.59 L260.99,165.27 L262.94,164.96 L264.89,164.65 L266.84,164.33 L268.79,164.02 L270.73,163.72 L272.68,163.41 L274.63,163.10 L276.58,162.80 L278.53,162.50 L280.48,162.20 L282.43,161.90 L284.38,161.60 L286.33,161.30 L288.28,161.01 L290.22,160.71 L292.17,160.42 L294.12,160.13 L296.07,159.84 L298.02,159.55 L299.97,159.26 L301.92,158.98 L303.87,158.69 L305.82,158.41 L307.77,158.13 L309.71,157.85 L311.66,157.57 L313.61,157.29 L315.56,157.01 L317.51,156.73 L319.46,156.46 L321.41,156.19 L323.36,155.91 L325.31,155.64 L327.26,155.37 L329.20,155.10 L331.15,154.84 L333.10,154.57 L335.05,154.31 L337.00,154.04" fill="none" stroke="#14149C" stroke-width="2.0" stroke-dasharray="2.9 1.53"/>
<path d="M48.20,310.72 L48.21,310.53 L48.22,310.29 L48.23,310.00 L48.24,309.66 L48.25,309.28 L48.27,308.86 L48.28,308.39 L48.29,307.89 L48.30,307.34 L48.31,306.75 L48.33,306.13 L48.34,305.48 L48.35,304.79 L48.36,304.06 L48.38,303.31 L48.39,302.53 L48.41,301.72 L48.42,300.88 L48.43,300.02 L48.45,299.13 L48.46,298.22 L48.48,297.29 L48.49,296.34 L48.51,295.38 L48.52,294.39 L48.54,293.39 L48.55,292.38 L48.57,291.35 L48.59,290.31 L48.60,289.26 L48.62,288.21 L48.64,287.15 L48.65,286.08 L48.67,285.00 L48.69,283.93 L48.71,282.85 L48.72,281.77 L48.74,280.70 L48.76,279.62 L48.78,278.56 L48.80,277.49 L48.82,276.44 L48.84,275.39 L48.86,274.35 L48.88,273.33 L48.90,272.31 L48.92,271.31 L48.95,270.33 L48.97,269.35 L48.99,268.40 L49.01,267.46 L49.04,266.53 L49.06,265.62 L49.08,264.73 L49.11,263.85 L49.13,263.00 L49.16,262.15 L49.18,261.33 L49.21,260.53 L49.23,259.74 L49.26,258.97 L49.29,258.22 L49.31,257.49 L49.34,256.78 L49.37,256.09 L49.40,255.42 L49.43,254.77 L49.46,254.15 L49.49,253.54 L49.52,252.95 L49.55,252.38 L49.58,251.82 L49.61,251.28 L49.64,250.76 L49.67,250.26 L49.71,249.76 L49.74,249.29 L49.78,248.82 L49.81,248.37 L49.85,247.93 L49.88,247.50 L49.92,247.08 L49.95,246.67 L49.99,246.27 L50.03,245.88 L50.07,245.50 L50.11,245.12 L50.15,244.75 L50.19,244.38 L50.23,244.02 L50.27,243.66 L50.31,243.31 L50.35,242.96 L50.40,242.61 L50.44,242.26 L50.49,241.91 L50.53,241.56 L50.58,241.22 L50.63,240.86 L50.67,240.51 L50.72,240.15 L50.77,239.79 L50.82,239.43 L50.87,239.06 L50.92,238.68 L50.97,238.30 L51.03,237.91 L51.08,237.52 L51.14,237.11 L51.19,236.69 L51.25,236.27 L51.30,235.83 L51.36,235.38 L51.42,234.92 L51.48,234.45 L51.54,233.96 L51.60,233.46 L51.66,232.95 L51.73,232.42 L51.79,231.88 L51.86,231.34 L51.92,230.78 L51.99,230.21 L52.06,229.63 L52.13,229.05 L52.20,228.46 L52.27,227.86 L52.34,227.25 L52.42,226.64 L52.49,226.02 L52.57,225.40 L52.65,224.78 L52.72,224.15 L52.80,223.52 L52.88,222.89 L52.97,222.26 L53.05,221.63 L53.13,221.00 L53.22,220.37 L53.31,219.74 L53.40,219.11 L53.49,218.49 L53.58,217.87 L53.67,217.25 L53.76,216.64 L53.86,216.03 L53.96,215.43 L54.05,214.83 L54.15,214.23 L54.25,213.64 L54.36,213.06 L54.46,212.47 L54.57,211.90 L54.68,211.32 L54.78,210.75 L54.90,210.18 L55.01,209.62 L55.12,209.06 L55.24,208.50 L55.36,207.94 L55.48,207.39 L55.60,206.84 L55.72,206.30 L55.85,205.76 L55.97,205.22 L56.10,204.68 L56.23,204.15 L56.37,203.62 L56.50,203.09 L56.64,202.56 L56.78,202.04 L56.92,201.52 L57.06,201.00 L57.21,200.49 L57.36,199.97 L57.51,199.46 L57.66,198.95 L57.81,198.44 L57.97,197.94 L58.13,197.44 L58.29,196.93 L58.46,196.43 L58.62,195.93 L58.79,195.44 L58.96,194.94 L59.14,194.45 L59.32,193.95 L59.50,193.46 L59.68,192.97 L59.86,192.48 L60.05,191.99 L60.24,191.50 L60.44,191.02 L60.63,190.53 L60.83,190.05 L61.04,189.56 L61.24,189.08 L61.45,188.59 L61.66,188.11 L61.88,187.63 L62.10,187.14 L62.32,186.66 L62.55,186.18 L62.78,185.70 L63.01,185.21 L63.25,184.73 L63.49,184.25 L63.73,183.77 L63.98,183.28 L64.23,182.80 L64.48,182.32 L64.74,181.83 L65.00,181.35 L65.27,180.86 L65.54,180.37 L65.81,179.89 L66.09,179.40 L66.38,178.91 L66.66,178.42 L66.96,177.93 L67.25,177.44 L67.55,176.94 L67.86,176.45 L68.17,175.95 L68.48,175.46 L68.80,174.96 L69.13,174.46 L69.46,173.97 L69.79,173.47 L70.13,172.97 L70.47,172.46 L70.82,171.96 L71.18,171.46 L71.54,170.96 L71.91,170.45 L72.28,169.94 L72.65,169.44 L73.04,168.93 L73.43,168.42 L73.82,167.91 L74.22,167.40 L74.63,166.89 L75.04,166.38 L75.46,165.87 L75.89,165.36 L76.32,164.84 L76.76,164.33 L77.20,163.82 L77.66,163.30 L78.12,162.78 L78.58,162.26 L79.06,161.75 L79.54,161.23 L80.02,160.71 L80.52,160.19 L81.02,159.67 L81.53,159.14 L82.05,158.62 L82.58,158.10 L83.11,157.58 L83.65,157.05 L84.20,156.53 L84.76,156.00 L85.33,155.47 L85.91,154.95 L86.49,154.42 L87.08,153.89 L87.69,153.36 L88.30,152.83 L88.92,152.30 L89.55,151.77 L90.19,151.24 L90.84,150.70 L91.50,150.17 L92.17,149.64 L92.85,149.10 L93.54,148.57 L94.24,148.03 L94.96,147.50 L95.68,146.96 L96.41,146.42 L97.16,145.89 L97.91,145.35 L98.68,144.81 L99.46,144.27 L100.25,143.73 L101.05,143.18 L101.87,142.64 L102.70,142.10 L103.54,141.55 L104.39,141.01 L105.26,140.46 L106.14,139.92 L107.03,139.37 L107.94,138.82 L108.86,138.27 L109.79,137.72 L110.74,137.17 L111.70,136.62 L112.68,136.07 L113.67,135.51 L114.68,134.96 L115.70,134.41 L116.74,133.85 L117.80,133.29 L118.87,132.73 L119.95,132.18 L121.06,131.62 L122.18,131.06 L123.31,130.49 L124.47,129.93 L125.64,129.37 L126.83,128.80 L128.04,128.24 L129.27,127.67 L130.51,127.10 L131.77,126.54 L133.06,125.97 L134.36,125.40 L135.68,124.82 L137.03,124.25 L138.39,123.68 L139.77,123.10 L141.18,122.53 L142.60,121.95 L144.05,121.37 L145.52,120.79 L147.02,120.21 L148.53,119.63 L150.07,119.05 L151.63,118.46 L153.22,117.88 L154.83,117.29 L156.46,116.71 L158.12,116.12 L159.80,115.53 L161.52,114.94 L163.25,114.34 L165.01,113.75 L166.80,113.16 L168.62,112.56 L170.46,111.96 L172.34,111.36 L174.24,110.76 L176.17,110.16 L178.13,109.56 L180.12,108.96 L182.14,108.35 L184.19,107.75 L186.27,107.14 L188.38,106.53 L190.53,105.92 L192.70,105.31 L194.91,104.69 L197.16,104.08 L199.44,103.46 L201.75,102.85 L204.10,102.23 L206.49,101.61 L208.91,100.99 L211.36,100.36 L213.86,99.74 L216.39,99.11 L218.96,98.48 L221.58,97.86 L224.23,97.23 L226.92,96.59 L229.65,95.96 L232.42,95.32 L235.24,94.69 L238.10,94.05 L241.00,93.41 L243.95,92.77 L246.94,92.13 L249.98,91.48 L253.06,90.84 L256.19,90.19 L259.37,89.54 L262.59,88.89 L265.87,88.24 L269.19,87.58 L272.57,86.93 L276.00,86.27 L279.48,85.61 L283.01,84.95 L286.59,84.29 L290.23,83.63 L293.93,82.96 L297.68,82.29 L301.49,81.62 L305.36,80.95 L309.29,80.28 L313.27,79.61 L317.32,78.93 L321.43,78.25 L325.60,77.57 L329.84,76.89 L334.14,76.21 L338.50,75.52" fill="none" stroke="#F5121B" stroke-width="2.0" stroke-linejoin="round"/>
<path d="M49.60,310.60 L49.63,312.42 L49.65,314.13 L49.68,315.74 L49.71,317.23 L49.73,318.63 L49.76,319.91 L49.79,321.10 L49.82,322.19 L49.85,323.19 L49.88,324.09 L49.91,324.90 L49.94,325.61 L49.97,326.24 L50.00,326.78 L50.03,327.24 L50.06,327.61 L50.09,327.91 L50.12,328.12 L50.16,328.26 L50.19,328.32 L50.22,328.31 L50.26,328.23 L50.29,328.08 L50.33,327.86 L50.36,327.58 L50.40,327.24 L50.43,326.83 L50.47,326.37 L50.51,325.84 L50.54,325.27 L50.58,324.64 L50.62,323.96 L50.66,323.23 L50.70,322.45 L50.74,321.62 L50.78,320.76 L50.82,319.85 L50.86,318.90 L50.90,317.92 L50.94,316.90 L50.99,315.85 L51.03,314.76 L51.07,313.65 L51.12,312.50 L51.16,311.34 L51.21,310.14 L51.25,308.93 L51.30,307.70 L51.35,306.45 L51.40,305.18 L51.44,303.90 L51.49,302.61 L51.54,301.31 L51.59,300.00 L51.64,298.69 L51.70,297.37 L51.75,296.05 L51.80,294.73 L51.85,293.41 L51.91,292.09 L51.96,290.78 L52.02,289.48 L52.07,288.19 L52.13,286.91 L52.19,285.64 L52.25,284.39 L52.31,283.16 L52.37,281.95 L52.43,280.76 L52.49,279.59 L52.55,278.45 L52.61,277.34 L52.68,276.25 L52.74,275.20 L52.81,274.18 L52.87,273.19 L52.94,272.25 L53.01,271.34 L53.08,270.48 L53.14,269.65 L53.21,268.87 L53.29,268.14 L53.36,267.44 L53.43,266.78 L53.50,266.15 L53.58,265.56 L53.65,265.01 L53.73,264.49 L53.81,263.99 L53.89,263.53 L53.97,263.09 L54.05,262.68 L54.13,262.29 L54.21,261.92 L54.29,261.58 L54.38,261.25 L54.46,260.94 L54.55,260.65 L54.64,260.37 L54.73,260.11 L54.82,259.85 L54.91,259.60 L55.00,259.37 L55.09,259.13 L55.19,258.91 L55.28,258.68 L55.38,258.46 L55.48,258.24 L55.58,258.01 L55.68,257.78 L55.78,257.55 L55.88,257.31 L55.99,257.06 L56.09,256.80 L56.20,256.53 L56.31,256.25 L56.42,255.95 L56.53,255.64 L56.64,255.31 L56.75,254.96 L56.87,254.59 L56.99,254.19 L57.10,253.78 L57.22,253.35 L57.34,252.90 L57.47,252.44 L57.59,251.97 L57.72,251.50 L57.84,251.02 L57.97,250.54 L58.10,250.07 L58.23,249.60 L58.37,249.13 L58.50,248.67 L58.64,248.21 L58.78,247.75 L58.92,247.29 L59.06,246.84 L59.20,246.39 L59.35,245.95 L59.50,245.51 L59.65,245.07 L59.80,244.63 L59.95,244.19 L60.10,243.76 L60.26,243.33 L60.42,242.90 L60.58,242.48 L60.74,242.05 L60.91,241.63 L61.07,241.21 L61.24,240.80 L61.41,240.38 L61.59,239.97 L61.76,239.55 L61.94,239.14 L62.12,238.73 L62.30,238.32 L62.49,237.92 L62.67,237.51 L62.86,237.11 L63.05,236.70 L63.24,236.30 L63.44,235.90 L63.64,235.50 L63.84,235.10 L64.04,234.70 L64.25,234.30 L64.46,233.90 L64.67,233.50 L64.88,233.10 L65.10,232.71 L65.32,232.31 L65.54,231.91 L65.76,231.51 L65.99,231.12 L66.22,230.72 L66.45,230.32 L66.69,229.92 L66.93,229.52 L67.17,229.12 L67.41,228.72 L67.66,228.32 L67.91,227.92 L68.16,227.51 L68.42,227.11 L68.68,226.70 L68.95,226.30 L69.21,225.89 L69.48,225.48 L69.76,225.07 L70.03,224.66 L70.31,224.24 L70.60,223.83 L70.88,223.41 L71.17,222.99 L71.47,222.57 L71.77,222.15 L72.07,221.73 L72.37,221.30 L72.68,220.87 L73.00,220.44 L73.31,220.01 L73.63,219.57 L73.96,219.13 L74.29,218.69 L74.62,218.24 L74.96,217.80 L75.30,217.35 L75.65,216.89 L76.00,216.44 L76.35,215.98 L76.71,215.51 L77.07,215.05 L77.44,214.58 L77.81,214.11 L78.19,213.63 L78.57,213.16 L78.96,212.68 L79.35,212.19 L79.74,211.71 L80.15,211.22 L80.55,210.74 L80.96,210.25 L81.38,209.76 L81.80,209.27 L82.23,208.77 L82.66,208.28 L83.10,207.79 L83.54,207.29 L83.99,206.80 L84.44,206.31 L84.90,205.81 L85.37,205.32 L85.84,204.83 L86.31,204.34 L86.80,203.85 L87.28,203.36 L87.78,202.87 L88.28,202.38 L88.79,201.90 L89.30,201.42 L89.82,200.94 L90.35,200.46 L90.88,199.99 L91.42,199.51 L91.96,199.04 L92.52,198.58 L93.08,198.11 L93.64,197.66 L94.22,197.20 L94.80,196.75 L95.39,196.30 L95.98,195.86 L96.59,195.42 L97.20,194.98 L97.81,194.55 L98.44,194.12 L99.07,193.69 L99.72,193.27 L100.36,192.84 L101.02,192.43 L101.69,192.01 L102.36,191.59 L103.04,191.18 L103.73,190.77 L104.43,190.36 L105.14,189.95 L105.86,189.54 L106.58,189.14 L107.32,188.73 L108.06,188.32 L108.82,187.92 L109.58,187.51 L110.35,187.11 L111.13,186.70 L111.92,186.30 L112.72,185.89 L113.54,185.48 L114.36,185.07 L115.19,184.66 L116.03,184.25 L116.88,183.84 L117.75,183.42 L118.62,183.01 L119.50,182.59 L120.40,182.16 L121.31,181.74 L122.22,181.31 L123.15,180.88 L124.09,180.45 L125.05,180.02 L126.01,179.58 L126.99,179.14 L127.98,178.70 L128.98,178.26 L129.99,177.81 L131.02,177.37 L132.05,176.92 L133.11,176.47 L134.17,176.01 L135.25,175.56 L136.34,175.10 L137.44,174.64 L138.56,174.18 L139.69,173.72 L140.84,173.25 L142.00,172.79 L143.18,172.32 L144.37,171.85 L145.57,171.38 L146.79,170.90 L148.03,170.43 L149.28,169.95 L150.54,169.48 L151.82,169.00 L153.12,168.52 L154.43,168.04 L155.76,167.55 L157.11,167.07 L158.47,166.58 L159.85,166.10 L161.25,165.61 L162.67,165.12 L164.10,164.63 L165.55,164.14 L167.02,163.65 L168.50,163.16 L170.01,162.66 L171.53,162.17 L173.07,161.67 L174.63,161.17 L176.22,160.68 L177.82,160.18 L179.44,159.67 L181.08,159.17 L182.74,158.67 L184.42,158.17 L186.12,157.66 L187.85,157.16 L189.59,156.65 L191.36,156.14 L193.15,155.63 L194.96,155.12 L196.79,154.61 L198.65,154.10 L200.53,153.58 L202.43,153.07 L204.36,152.55 L206.31,152.04 L208.29,151.52 L210.29,151.00 L212.31,150.48 L214.36,149.96 L216.43,149.44 L218.54,148.91 L220.66,148.39 L222.82,147.86 L225.00,147.34 L227.20,146.81 L229.44,146.28 L231.70,145.75 L233.99,145.22 L236.31,144.69 L238.66,144.16 L241.04,143.62 L243.44,143.09 L245.88,142.55 L248.35,142.02 L250.84,141.48 L253.37,140.94 L255.93,140.40 L258.53,139.86 L261.15,139.32 L263.81,138.78 L266.50,138.23 L269.22,137.69 L271.98,137.14 L274.77,136.59 L277.60,136.05 L280.46,135.50 L283.35,134.95 L286.29,134.40 L289.26,133.85 L292.26,133.29 L295.31,132.74 L298.39,132.18 L301.51,131.63 L304.67,131.07 L307.87,130.51 L311.10,129.96 L314.38,129.40 L317.70,128.84 L321.06,128.27 L324.46,127.71 L327.91,127.15 L331.40,126.58 L334.93,126.02 L338.50,125.45" fill="none" stroke="#F5121B" stroke-width="2.0" stroke-linejoin="round"/>
<path d="M50.80,310.67 L50.84,310.65 L50.87,310.61 L50.91,310.56 L50.95,310.50 L50.99,310.42 L51.03,310.33 L51.07,310.22 L51.11,310.10 L51.15,309.97 L51.19,309.82 L51.23,309.67 L51.28,309.50 L51.32,309.32 L51.36,309.12 L51.41,308.92 L51.45,308.70 L51.49,308.47 L51.54,308.24 L51.58,307.99 L51.63,307.73 L51.68,307.46 L51.72,307.17 L51.77,306.88 L51.82,306.58 L51.87,306.27 L51.92,305.95 L51.97,305.62 L52.02,305.29 L52.07,304.94 L52.12,304.58 L52.17,304.22 L52.23,303.85 L52.28,303.47 L52.33,303.08 L52.39,302.68 L52.44,302.28 L52.50,301.87 L52.56,301.46 L52.61,301.03 L52.67,300.60 L52.73,300.17 L52.79,299.72 L52.85,299.27 L52.91,298.82 L52.97,298.36 L53.03,297.90 L53.09,297.43 L53.16,296.95 L53.22,296.47 L53.28,295.99 L53.35,295.50 L53.42,295.01 L53.48,294.51 L53.55,294.01 L53.62,293.51 L53.69,293.00 L53.76,292.49 L53.83,291.98 L53.90,291.46 L53.97,290.94 L54.05,290.42 L54.12,289.90 L54.19,289.38 L54.27,288.85 L54.35,288.33 L54.42,287.80 L54.50,287.27 L54.58,286.74 L54.66,286.21 L54.74,285.68 L54.82,285.15 L54.91,284.62 L54.99,284.09 L55.07,283.56 L55.16,283.03 L55.25,282.50 L55.33,281.97 L55.42,281.44 L55.51,280.92 L55.60,280.40 L55.69,279.87 L55.79,279.36 L55.88,278.84 L55.97,278.32 L56.07,277.81 L56.17,277.30 L56.26,276.80 L56.36,276.29 L56.46,275.80 L56.56,275.30 L56.67,274.81 L56.77,274.32 L56.87,273.84 L56.98,273.36 L57.09,272.89 L57.20,272.42 L57.31,271.96 L57.42,271.50 L57.53,271.05 L57.64,270.60 L57.76,270.16 L57.87,269.72 L57.99,269.29 L58.11,268.87 L58.23,268.45 L58.35,268.03 L58.47,267.62 L58.59,267.21 L58.72,266.81 L58.85,266.41 L58.97,266.01 L59.10,265.62 L59.23,265.23 L59.37,264.85 L59.50,264.47 L59.64,264.09 L59.77,263.72 L59.91,263.34 L60.05,262.97 L60.19,262.61 L60.34,262.24 L60.48,261.88 L60.63,261.51 L60.78,261.15 L60.93,260.80 L61.08,260.44 L61.23,260.08 L61.39,259.73 L61.54,259.38 L61.70,259.02 L61.86,258.67 L62.02,258.32 L62.19,257.97 L62.35,257.61 L62.52,257.26 L62.69,256.91 L62.86,256.56 L63.04,256.20 L63.21,255.85 L63.39,255.49 L63.57,255.14 L63.75,254.78 L63.93,254.42 L64.12,254.06 L64.31,253.70 L64.50,253.34 L64.69,252.97 L64.88,252.61 L65.08,252.24 L65.28,251.87 L65.48,251.50 L65.68,251.13 L65.89,250.75 L66.09,250.38 L66.30,250.01 L66.52,249.63 L66.73,249.25 L66.95,248.87 L67.17,248.49 L67.39,248.11 L67.61,247.73 L67.84,247.35 L68.07,246.96 L68.30,246.57 L68.54,246.19 L68.78,245.80 L69.02,245.41 L69.26,245.02 L69.50,244.63 L69.75,244.24 L70.00,243.85 L70.26,243.45 L70.51,243.06 L70.77,242.66 L71.04,242.27 L71.30,241.87 L71.57,241.47 L71.84,241.07 L72.12,240.67 L72.40,240.27 L72.68,239.87 L72.96,239.47 L73.25,239.07 L73.54,238.67 L73.83,238.26 L74.13,237.86 L74.43,237.45 L74.74,237.05 L75.04,236.64 L75.35,236.23 L75.67,235.83 L75.99,235.42 L76.31,235.01 L76.63,234.60 L76.96,234.19 L77.29,233.78 L77.63,233.37 L77.97,232.96 L78.32,232.55 L78.66,232.14 L79.01,231.73 L79.37,231.32 L79.73,230.90 L80.09,230.49 L80.46,230.08 L80.83,229.67 L81.21,229.25 L81.59,228.84 L81.98,228.43 L82.37,228.01 L82.76,227.60 L83.16,227.18 L83.56,226.77 L83.97,226.36 L84.38,225.94 L84.80,225.53 L85.22,225.11 L85.64,224.70 L86.07,224.28 L86.51,223.87 L86.95,223.45 L87.39,223.04 L87.84,222.63 L88.30,222.21 L88.76,221.80 L89.23,221.38 L89.70,220.97 L90.17,220.55 L90.66,220.14 L91.14,219.72 L91.64,219.31 L92.13,218.90 L92.64,218.48 L93.15,218.07 L93.66,217.65 L94.18,217.24 L94.71,216.82 L95.24,216.41 L95.78,215.99 L96.33,215.57 L96.88,215.16 L97.44,214.74 L98.00,214.33 L98.57,213.91 L99.15,213.49 L99.73,213.08 L100.32,212.66 L100.92,212.24 L101.52,211.83 L102.13,211.41 L102.75,210.99 L103.37,210.57 L104.00,210.16 L104.64,209.74 L105.28,209.32 L105.94,208.90 L106.60,208.48 L107.26,208.06 L107.94,207.64 L108.62,207.22 L109.31,206.80 L110.01,206.38 L110.71,205.96 L111.43,205.54 L112.15,205.12 L112.88,204.70 L113.62,204.27 L114.36,203.85 L115.12,203.43 L115.88,203.00 L116.65,202.58 L117.43,202.16 L118.22,201.73 L119.02,201.31 L119.83,200.88 L120.65,200.45 L121.47,200.03 L122.31,199.60 L123.15,199.17 L124.01,198.75 L124.87,198.32 L125.74,197.89 L126.63,197.46 L127.52,197.03 L128.42,196.60 L129.34,196.17 L130.26,195.74 L131.19,195.31 L132.14,194.88 L133.10,194.44 L134.06,194.01 L135.04,193.58 L136.03,193.14 L137.03,192.71 L138.04,192.27 L139.06,191.83 L140.09,191.40 L141.14,190.96 L142.20,190.52 L143.26,190.08 L144.35,189.64 L145.44,189.20 L146.54,188.76 L147.66,188.32 L148.79,187.88 L149.94,187.44 L151.09,186.99 L152.26,186.55 L153.45,186.10 L154.64,185.66 L155.85,185.21 L157.08,184.77 L158.31,184.32 L159.56,183.87 L160.83,183.42 L162.11,182.97 L163.40,182.52 L164.71,182.07 L166.03,181.62 L167.37,181.16 L168.73,180.71 L170.09,180.26 L171.48,179.80 L172.88,179.34 L174.29,178.89 L175.72,178.43 L177.17,177.97 L178.64,177.51 L180.12,177.05 L181.61,176.59 L183.13,176.13 L184.66,175.67 L186.21,175.20 L187.77,174.74 L189.36,174.27 L190.96,173.81 L192.58,173.34 L194.22,172.88 L195.87,172.41 L197.55,171.94 L199.24,171.47 L200.96,171.00 L202.69,170.52 L204.44,170.05 L206.21,169.58 L208.00,169.10 L209.82,168.63 L211.65,168.15 L213.50,167.68 L215.38,167.20 L217.27,166.72 L219.19,166.24 L221.13,165.76 L223.09,165.28 L225.07,164.80 L227.07,164.31 L229.10,163.83 L231.15,163.34 L233.22,162.86 L235.32,162.37 L237.44,161.88 L239.59,161.39 L241.75,160.90 L243.95,160.41 L246.16,159.92 L248.41,159.43 L250.68,158.93 L252.97,158.44 L255.29,157.94 L257.64,157.45 L260.01,156.95 L262.41,156.45 L264.83,155.95 L267.29,155.45 L269.77,154.95 L272.28,154.45 L274.82,153.94 L277.38,153.44 L279.98,152.93 L282.60,152.43 L285.26,151.92 L287.94,151.41 L290.65,150.90 L293.40,150.39 L296.18,149.88 L298.98,149.37 L301.82,148.85 L304.69,148.34 L307.60,147.82 L310.53,147.31 L313.50,146.79 L316.51,146.27 L319.54,145.75 L322.62,145.23 L325.72,144.71 L328.86,144.18 L332.04,143.66 L335.25,143.13 L338.50,142.61" fill="none" stroke="#F5121B" stroke-width="2.0" stroke-linejoin="round"/>
</g>
<path d="M47.80,310.4 v-3.4 M62.23,310.4 v-2.0 M76.67,310.4 v-2.0 M91.10,310.4 v-2.0 M105.54,310.4 v-3.4 M119.97,310.4 v-2.0 M134.41,310.4 v-2.0 M148.84,310.4 v-2.0 M163.28,310.4 v-3.4 M177.71,310.4 v-2.0 M192.15,310.4 v-2.0 M206.58,310.4 v-2.0 M221.02,310.4 v-3.4 M235.45,310.4 v-2.0 M249.89,310.4 v-2.0 M264.32,310.4 v-2.0 M278.76,310.4 v-3.4 M293.19,310.4 v-2.0 M307.63,310.4 v-2.0 M322.06,310.4 v-2.0 M336.50,310.4 v-3.4 M47.8,22.20 h3.6 M47.8,58.22 h3.6 M47.8,94.25 h3.6 M47.8,130.27 h3.6 M47.8,166.30 h3.6 M47.8,202.32 h3.6 M47.8,238.35 h3.6 M47.8,274.38 h3.6 M47.8,310.40 h3.6" stroke="#555" stroke-width="0.6" fill="none"/>
<rect x="222.7" y="217.5" width="111.9" height="82.3" rx="3.2" ry="3.2" fill="#fff" stroke="#111" stroke-width="1.3"/>
<path d="M228.8,227.8 H254.6" stroke="#F5121B" stroke-width="1.6"/>
<path d="M228.8,243.5 H254.6" stroke="#0000FF" stroke-width="1.9" stroke-dasharray="2.7 1.6"/>
<path d="M228.8,260.2 H254.6" stroke="#FF00FF" stroke-width="1.6"/>
<path d="M228.8,274.4 H254.6" stroke="#0FAAAA" stroke-width="1.6"/>
<path d="M228.8,288.6 H254.6" stroke="#000" stroke-width="1.6"/>
<text x="114" y="12.1" font-size="13.3" fill="#111" text-anchor="start" font-family="Liberation Sans, sans-serif"><tspan dy="0.00" font-style="italic">m</tspan><tspan dy="2.93" font-style="italic" font-size="9.58">χ</tspan><tspan dy="-2.93">=300MeV, Ω</tspan><tspan dy="2.93" font-style="italic" font-size="9.58">χ</tspan><tspan dy="-2.93" font-style="italic">h</tspan><tspan dy="-5.32" font-size="9.58">2</tspan><tspan dy="5.32">=0.1198</tspan></text>
<text x="160.8" y="345.8" font-size="15.8" fill="#111" text-anchor="start" font-family="Liberation Sans, sans-serif"><tspan dy="0.00" font-style="italic">m</tspan><tspan dy="3.48" font-style="italic" font-size="11.38">Z'</tspan><tspan dy="-3.48">(MeV)</tspan></text>
<text x="0" y="0" font-size="17.0" fill="#111" text-anchor="start" font-family="Liberation Sans, sans-serif" transform="translate(0.4,172.9) skewX(-8)"><tspan dy="0.00" font-style="italic">ε</tspan></text>
<text x="47.80" y="324.3" font-size="12.2" fill="#111" text-anchor="middle" font-family="Liberation Sans, sans-serif"><tspan dy="0.00">600</tspan></text>
<text x="105.54" y="324.3" font-size="12.2" fill="#111" text-anchor="middle" font-family="Liberation Sans, sans-serif"><tspan dy="0.00">800</tspan></text>
<text x="163.28" y="324.3" font-size="12.2" fill="#111" text-anchor="middle" font-family="Liberation Sans, sans-serif"><tspan dy="0.00">1000</tspan></text>
<text x="221.02" y="324.3" font-size="12.2" fill="#111" text-anchor="middle" font-family="Liberation Sans, sans-serif"><tspan dy="0.00">1200</tspan></text>
<text x="278.76" y="324.3" font-size="12.2" fill="#111" text-anchor="middle" font-family="Liberation Sans, sans-serif"><tspan dy="0.00">1400</tspan></text>
<text x="336.50" y="324.3" font-size="12.2" fill="#111" text-anchor="middle" font-family="Liberation Sans, sans-serif"><tspan dy="0.00">1600</tspan></text>
<text x="45.0" y="26.40" font-size="11.6" fill="#111" text-anchor="end" font-family="Liberation Sans, sans-serif">10<tspan dx="0.5" dy="-4.9" font-size="8.6">−1</tspan></text>
<text x="45.0" y="62.42" font-size="11.6" fill="#111" text-anchor="end" font-family="Liberation Sans, sans-serif">10<tspan dx="0.5" dy="-4.9" font-size="8.6">−1.5</tspan></text>
<text x="45.0" y="98.45" font-size="11.6" fill="#111" text-anchor="end" font-family="Liberation Sans, sans-serif">10<tspan dx="0.5" dy="-4.9" font-size="8.6">−2</tspan></text>
<text x="45.0" y="134.47" font-size="11.6" fill="#111" text-anchor="end" font-family="Liberation Sans, sans-serif">10<tspan dx="0.5" dy="-4.9" font-size="8.6">−2.5</tspan></text>
<text x="45.0" y="170.50" font-size="11.6" fill="#111" text-anchor="end" font-family="Liberation Sans, sans-serif">10<tspan dx="0.5" dy="-4.9" font-size="8.6">−3</tspan></text>
<text x="45.0" y="206.52" font-size="11.6" fill="#111" text-anchor="end" font-family="Liberation Sans, sans-serif">10<tspan dx="0.5" dy="-4.9" font-size="8.6">−3.5</tspan></text>
<text x="45.0" y="242.55" font-size="11.6" fill="#111" text-anchor="end" font-family="Liberation Sans, sans-serif">10<tspan dx="0.5" dy="-4.9" font-size="8.6">−4</tspan></text>
<text x="45.0" y="278.57" font-size="11.6" fill="#111" text-anchor="end" font-family="Liberation Sans, sans-serif">10<tspan dx="0.5" dy="-4.9" font-size="8.6">−4.5</tspan></text>
<text x="45.0" y="314.60" font-size="11.6" fill="#111" text-anchor="end" font-family="Liberation Sans, sans-serif">10<tspan dx="0.5" dy="-4.9" font-size="8.6">−5</tspan></text>
<text x="60.9" y="43.6" font-size="11.6" fill="#B8621B" text-anchor="start" font-family="Liberation Sans, sans-serif"><tspan dy="0.00">(g−2)</tspan><tspan dy="2.32" font-style="italic" font-size="7.19">e</tspan></text>
<text x="60.9" y="91.7" font-size="11.6" fill="#B8621B" text-anchor="start" font-family="Liberation Sans, sans-serif"><tspan dy="0.00">(g−2)</tspan><tspan dy="2.32" font-style="italic" font-size="7.19">μ</tspan></text>
<text x="291" y="48" font-size="11" fill="#22A022" text-anchor="start" font-family="Liberation Sans, sans-serif"><tspan dy="0.00">EWPT</tspan></text>
<text x="271.8" y="109" font-size="11.5" fill="#5A6AEA" text-anchor="start" font-family="Liberation Sans, sans-serif"><tspan dy="0.00">BaBar−</tspan><tspan dy="0.00" font-style="italic">γ</tspan></text>
<text x="0" y="0" font-size="11.7" fill="#2222A8" text-anchor="middle" font-family="Liberation Sans, sans-serif" transform="translate(134,110.0) rotate(-8.5) translate(0,3.04)"><tspan dy="0.00" font-style="italic">g</tspan><tspan dy="2.57" font-style="italic" font-size="8.42">d</tspan><tspan dy="-2.57">=1</tspan></text>
<text x="0" y="0" font-size="11.3" fill="#2222A8" text-anchor="middle" font-family="Liberation Sans, sans-serif" transform="translate(120.2,163.0) rotate(-3.7) translate(0,2.94)"><tspan dy="0.00" font-style="italic">g</tspan><tspan dy="2.49" font-style="italic" font-size="8.14">d</tspan><tspan dy="-2.49">=5</tspan></text>
<text x="0" y="0" font-size="11.4" fill="#2222A8" text-anchor="middle" font-family="Liberation Sans, sans-serif" transform="translate(221,179.5) rotate(-4) translate(0,2.96)"><tspan dy="0.00" font-style="italic">g</tspan><tspan dy="2.51" font-style="italic" font-size="8.21">d</tspan><tspan dy="-2.51">=10</tspan></text>
<text x="0" y="0" font-size="12" fill="#EE1111" text-anchor="middle" font-family="Liberation Sans, sans-serif" transform="translate(68.0,163.2) rotate(-38) translate(0,3.12)"><tspan dy="0.00" font-style="italic">g</tspan><tspan dy="2.64" font-style="italic" font-size="8.64">d</tspan><tspan dy="-2.64">=1</tspan></text>
<text x="0" y="0" font-size="12" fill="#EE1111" text-anchor="middle" font-family="Liberation Sans, sans-serif" transform="translate(82.3,219) rotate(-36) translate(0,3.12)"><tspan dy="0.00" font-style="italic">g</tspan><tspan dy="2.64" font-style="italic" font-size="8.64">d</tspan><tspan dy="-2.64">=5</tspan></text>
<text x="0" y="0" font-size="12" fill="#EE1111" text-anchor="middle" font-family="Liberation Sans, sans-serif" transform="translate(79.3,253.7) rotate(-37) translate(0,3.12)"><tspan dy="0.00" font-style="italic">g</tspan><tspan dy="2.64" font-style="italic" font-size="8.64">d</tspan><tspan dy="-2.64">=10</tspan></text>
<text x="260.0" y="230.00" font-size="8.75" fill="#111" text-anchor="start" font-family="Liberation Sans, sans-serif"><tspan dy="0.00">Relic</tspan></text>
<text x="260.0" y="245.70" font-size="8.75" fill="#111" text-anchor="start" font-family="Liberation Sans, sans-serif"><tspan dy="0.00" font-style="italic">σ</tspan><tspan dy="1.93" font-style="italic" font-size="6.56">χe</tspan><tspan dy="-1.93">=10</tspan><tspan dy="-3.41" font-size="6.56">−40</tspan><tspan dy="3.41">cm</tspan><tspan dy="-3.41" font-size="6.56">2</tspan></text>
<text x="260.0" y="262.20" font-size="8.75" fill="#111" text-anchor="start" font-family="Liberation Sans, sans-serif"><tspan dy="0.00">BaBar Improved</tspan></text>
<text x="260.0" y="276.40" font-size="8.75" fill="#111" text-anchor="start" font-family="Liberation Sans, sans-serif"><tspan dy="0.00">Belle2 Converted</tspan></text>
<text x="260.0" y="290.30" font-size="8.75" fill="#111" text-anchor="start" font-family="Liberation Sans, sans-serif"><tspan dy="0.00">Belle2 Standard</tspan></text>
</svg>
</body></html>
